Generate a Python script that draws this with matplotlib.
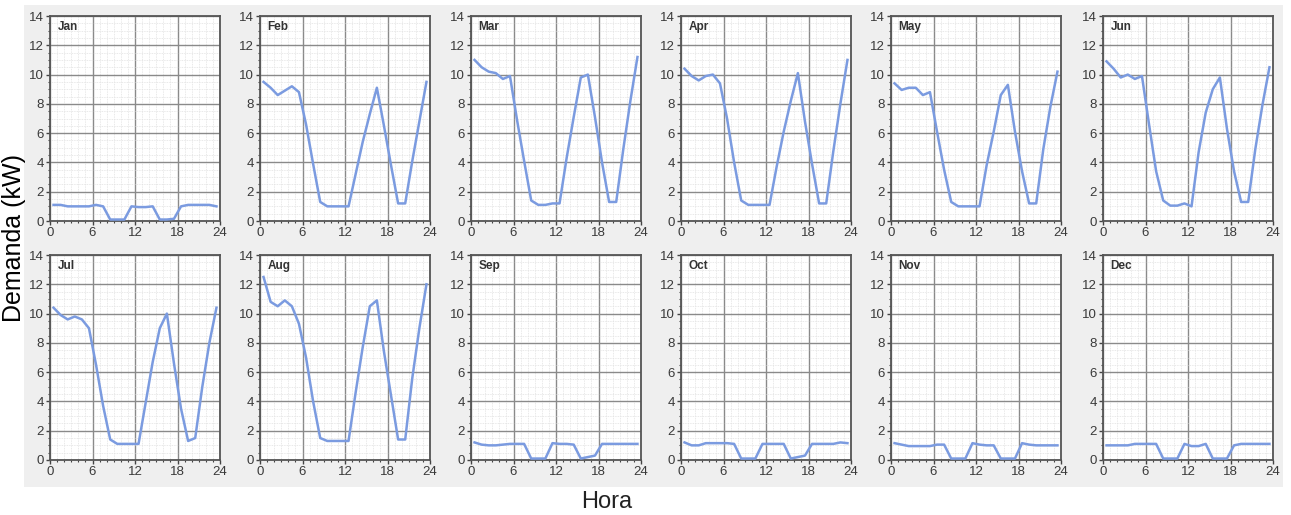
import numpy as np
import matplotlib
matplotlib.use("Agg")
import matplotlib.pyplot as plt
from matplotlib.ticker import MultipleLocator
from matplotlib.patches import Rectangle

MONTHS = ["Jan", "Feb", "Mar", "Apr", "May", "Jun",
          "Jul", "Aug", "Sep", "Oct", "Nov", "Dec"]
HOURS = [h + 0.5 for h in range(24)]

jan = [1.1, 1.1, 1.0, 1.0, 1.0, 1.0, 1.1, 1.0, 0.1, 0.1, 0.1, 1.0,
       0.95, 0.95, 1.0, 0.1, 0.1, 0.15, 1.0, 1.1, 1.1, 1.1, 1.1, 1.0]
feb = [9.5, 9.1, 8.6, 8.9, 9.2, 8.8, 6.6, 3.9, 1.3, 1.0, 1.0, 1.0,
       1.0, 3.2, 5.4, 7.3, 9.1, 6.5, 3.8, 1.2, 1.2, 4.1, 6.8, 9.5]
mar = [11.0, 10.5, 10.2, 10.1, 9.7, 9.9, 6.9, 4.1, 1.4, 1.1, 1.1, 1.2,
       1.2, 4.3, 7.1, 9.8, 10.0, 7.1, 4.0, 1.3, 1.3, 4.9, 8.2, 11.2]
apr = [10.4, 9.9, 9.6, 9.9, 10.0, 9.4, 7.0, 4.0, 1.4, 1.1, 1.1, 1.1,
       1.1, 3.7, 6.1, 8.2, 10.1, 6.8, 3.9, 1.2, 1.2, 4.75, 8.0, 11.0]
may = [9.4, 8.95, 9.1, 9.1, 8.6, 8.8, 6.1, 3.5, 1.3, 1.0, 1.0, 1.0,
       1.0, 3.8, 6.1, 8.6, 9.3, 6.1, 3.4, 1.2, 1.2, 4.9, 7.8, 10.2]
jun = [10.9, 10.4, 9.8, 10.0, 9.7, 9.9, 6.6, 3.4, 1.4, 1.05, 1.05, 1.2,
       1.0, 4.7, 7.4, 9.0, 9.8, 6.3, 3.4, 1.3, 1.3, 4.9, 7.9, 10.5]
jul = [10.4, 9.9, 9.6, 9.8, 9.6, 9.0, 6.5, 3.7, 1.4, 1.1, 1.1, 1.1,
       1.1, 3.9, 6.7, 9.0, 10.0, 6.6, 3.5, 1.3, 1.5, 5.0, 8.0, 10.4]
aug = [12.5, 10.8, 10.5, 10.9, 10.5, 9.3, 7.0, 4.0, 1.5, 1.3, 1.3, 1.3,
       1.3, 4.6, 7.7, 10.5, 10.9, 7.4, 4.4, 1.4, 1.4, 5.6, 9.0, 12.0]
sep = [1.2, 1.05, 1.0, 1.0, 1.05, 1.1, 1.1, 1.1, 0.1, 0.1, 0.1, 1.15,
       1.1, 1.1, 1.05, 0.1, 0.2, 0.3, 1.1, 1.1, 1.1, 1.1, 1.1, 1.1]
oct_ = [1.2, 1.0, 1.0, 1.15, 1.15, 1.15, 1.15, 1.1, 0.1, 0.1, 0.1, 1.1,
        1.1, 1.1, 1.1, 0.1, 0.2, 0.3, 1.1, 1.1, 1.1, 1.1, 1.2, 1.15]
nov = [1.15, 1.05, 0.95, 0.95, 0.95, 0.95, 1.05, 1.05, 0.1, 0.1, 0.1, 1.15,
       1.05, 1.0, 1.0, 0.1, 0.1, 0.1, 1.15, 1.05, 1.0, 1.0, 1.0, 1.0]
dec = [1.0, 1.0, 1.0, 1.0, 1.1, 1.1, 1.1, 1.1, 0.1, 0.1, 0.1, 1.1,
       0.95, 0.95, 1.1, 0.1, 0.1, 0.1, 1.0, 1.1, 1.1, 1.1, 1.1, 1.1]

SERIES = [jan, feb, mar, apr, may, jun, jul, aug, sep, oct_, nov, dec]
X_TICKS = [0, 6, 12, 18, 24]
Y_TICKS = [0, 2, 4, 6, 8, 10, 12, 14]

W, H = 1291, 515
fig = plt.figure(figsize=(W / 100, H / 100), dpi=100)
fig.patch.set_facecolor("white")
plt.rcParams["font.family"] = ["Liberation Sans", "DejaVu Sans"]

# light grey panel background
fig.patches.append(Rectangle((24 / W, 1 - 487 / H), (1283 - 24) / W, (487 - 5) / H,
                             transform=fig.transFigure, facecolor="#efefef",
                             edgecolor="none", zorder=-10))

col_lefts = [50, 260, 471, 681, 891, 1103]
row_tops = [16, 255]
ax_w, ax_h = 170, 205

line_color = "#7b9be0"
for i, (name, vals) in enumerate(zip(MONTHS, SERIES)):
    r, c = divmod(i, 6)
    left = col_lefts[c]
    top = row_tops[r]
    ax = fig.add_axes([left / W, 1 - (top + ax_h) / H, ax_w / W, ax_h / H])
    ax.set_facecolor("white")
    ax.plot(HOURS, vals, color=line_color, lw=1.8, zorder=3, solid_joinstyle="round")
    ax.set_xlim(0, 24)
    ax.set_ylim(0, 14)
    ax.set_xticks(X_TICKS)
    ax.set_yticks(Y_TICKS)
    ax.xaxis.set_minor_locator(MultipleLocator(1))
    ax.yaxis.set_minor_locator(MultipleLocator(0.5))
    ax.grid(which="major", color="#8a8a8a", lw=1.0, zorder=1)
    ax.grid(which="minor", color="#e2e2e2", lw=0.6, ls=(0, (1, 1)), zorder=0)
    ax.set_axisbelow(True)
    ax.tick_params(which="major", length=3, width=1, color="#444444",
                   labelsize=9.5, labelcolor="#3a3a3a", pad=1.5)
    ax.tick_params(which="minor", length=1.5, width=0.8, color="#444444")
    for s in ax.spines.values():
        s.set_color("#555555")
        s.set_linewidth(1.3)
    ax.text(0.045, 0.975, name, transform=ax.transAxes, ha="left", va="top",
            fontsize=8.5, fontweight="bold", color="#333333", zorder=5)

fig.text(14 / W, 1 - 238 / H, "Demanda (kW)", rotation=90, ha="center", va="center",
         fontsize=18, color="black")
fig.text(607 / W, 1 - 502 / H, "Hora", ha="center", va="center", fontsize=17,
         color="#222222")

fig.savefig("out.png", dpi=100, facecolor=fig.get_facecolor())
